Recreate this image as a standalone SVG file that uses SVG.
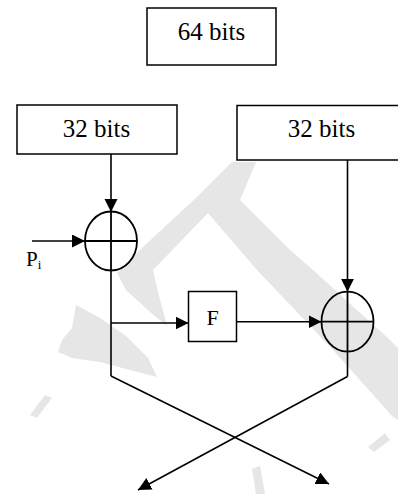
<svg xmlns="http://www.w3.org/2000/svg" width="398" height="494" viewBox="0 0 398 494">
  <style>
    .box { fill: #ffffff; stroke: #000000; stroke-width: 1.5; }
    .xor { fill: none; stroke: #000000; stroke-width: 1.8; }
    .wire { fill: none; stroke: #000000; stroke-width: 1.6; }
    .label { fill: #000000; }
    .mark { fill: #e6e6e6; stroke: none; }
  </style>
  <defs>
    <marker id="head" markerUnits="userSpaceOnUse" markerWidth="14" markerHeight="14" refX="13" refY="6.5" orient="auto">
      <path d="M0,0 L13,6.5 L0,13 Z" fill="#000000"/>
    </marker>
  </defs>

  <rect width="398" height="494" fill="#ffffff"/>

  <!-- faint background watermark -->
  <g id="watermark">
    <path class="mark" d="M117,273 L143,247 L197,197 L232,162 L256,162 L246,186 L240,200 L290,250 L313,270 L390,340 L398,348 L398,420 L393,417 L333,350 L257,270 L208,213 L153,270 L158,292 L167,326 L150,312 L126,290 Z"/>
    <path class="mark" d="M76,305 L100,318 L126,336 L148,358 L157,377 L130,370 L100,362 L72,358 L58,352 L62,340 L72,328 Z"/>
    <path class="mark" d="M252,469 L260,466 L265,494 L256,494 Z"/>
    <path class="mark" d="M368,447 L385,433 L390,440 L374,452 Z"/>
    <path class="mark" d="M30,415 L45,395 L52,398 L37,418 Z"/>
  </g>

  <!-- 64-bit block -->
  <g id="block64">
    <rect class="box" x="147" y="8" width="129" height="57"/>
    <text class="label" x="211.5" y="40" font-family="'Liberation Serif', 'DejaVu Serif', serif" font-size="25" text-anchor="middle">64 bits</text>
  </g>

  <!-- left half -->
  <g id="left32">
    <rect class="box" x="17" y="105" width="160" height="49"/>
    <text class="label" x="96.5" y="137" font-family="'Liberation Serif', 'DejaVu Serif', serif" font-size="25" text-anchor="middle">32 bits</text>
  </g>

  <!-- right half -->
  <g id="right32">
    <rect class="box" x="237" y="105.5" width="175" height="54.5"/>
    <text class="label" x="321.5" y="137" font-family="'Liberation Serif', 'DejaVu Serif', serif" font-size="25" text-anchor="middle">32 bits</text>
  </g>

  <!-- XOR with subkey -->
  <g id="xorLeft">
    <ellipse class="xor" cx="111" cy="241" rx="26" ry="29.5"/>
    <line class="xor" x1="85" y1="241" x2="137" y2="241"/>
    <line class="xor" x1="111" y1="211.5" x2="111" y2="270.5"/>
  </g>

  <!-- subkey label -->
  <g id="subkey">
    <text class="label" x="26" y="266" font-family="'Liberation Serif', 'DejaVu Serif', serif" font-size="21">P<tspan font-size="13" dy="3">i</tspan></text>
  </g>

  <!-- round function -->
  <g id="F">
    <rect class="box" x="188.5" y="291.5" width="48" height="50"/>
    <text class="label" x="212.5" y="325" font-family="'Liberation Serif', 'DejaVu Serif', serif" font-size="22" text-anchor="middle">F</text>
  </g>

  <!-- XOR with F output -->
  <g id="xorRight">
    <ellipse class="xor" cx="347.5" cy="321.7" rx="26" ry="30"/>
    <line class="xor" x1="321.5" y1="321.7" x2="373.5" y2="321.7"/>
    <line class="xor" x1="347.5" y1="291.7" x2="347.5" y2="351.7"/>
  </g>

  <!-- connectors -->
  <g id="connectors">
    <line class="wire" x1="111" y1="154" x2="111" y2="212" marker-end="url(#head)"/>
    <line class="wire" x1="32" y1="241" x2="85" y2="241" marker-end="url(#head)"/>
    <line class="wire" x1="347.5" y1="160" x2="347.5" y2="291.7" marker-end="url(#head)"/>
    <polyline class="wire" points="111,270 111,376"/>
    <line class="wire" x1="111" y1="323" x2="188.5" y2="323" marker-end="url(#head)"/>
    <line class="wire" x1="236.5" y1="321.7" x2="321.5" y2="321.7" marker-end="url(#head)"/>
    <polyline class="wire" points="347.5,351.7 347.5,376.5"/>
    <polyline class="wire" points="111,376 329,484" marker-end="url(#head)"/>
    <polyline class="wire" points="347.5,376.5 138,490" marker-end="url(#head)"/>
  </g>
</svg>
